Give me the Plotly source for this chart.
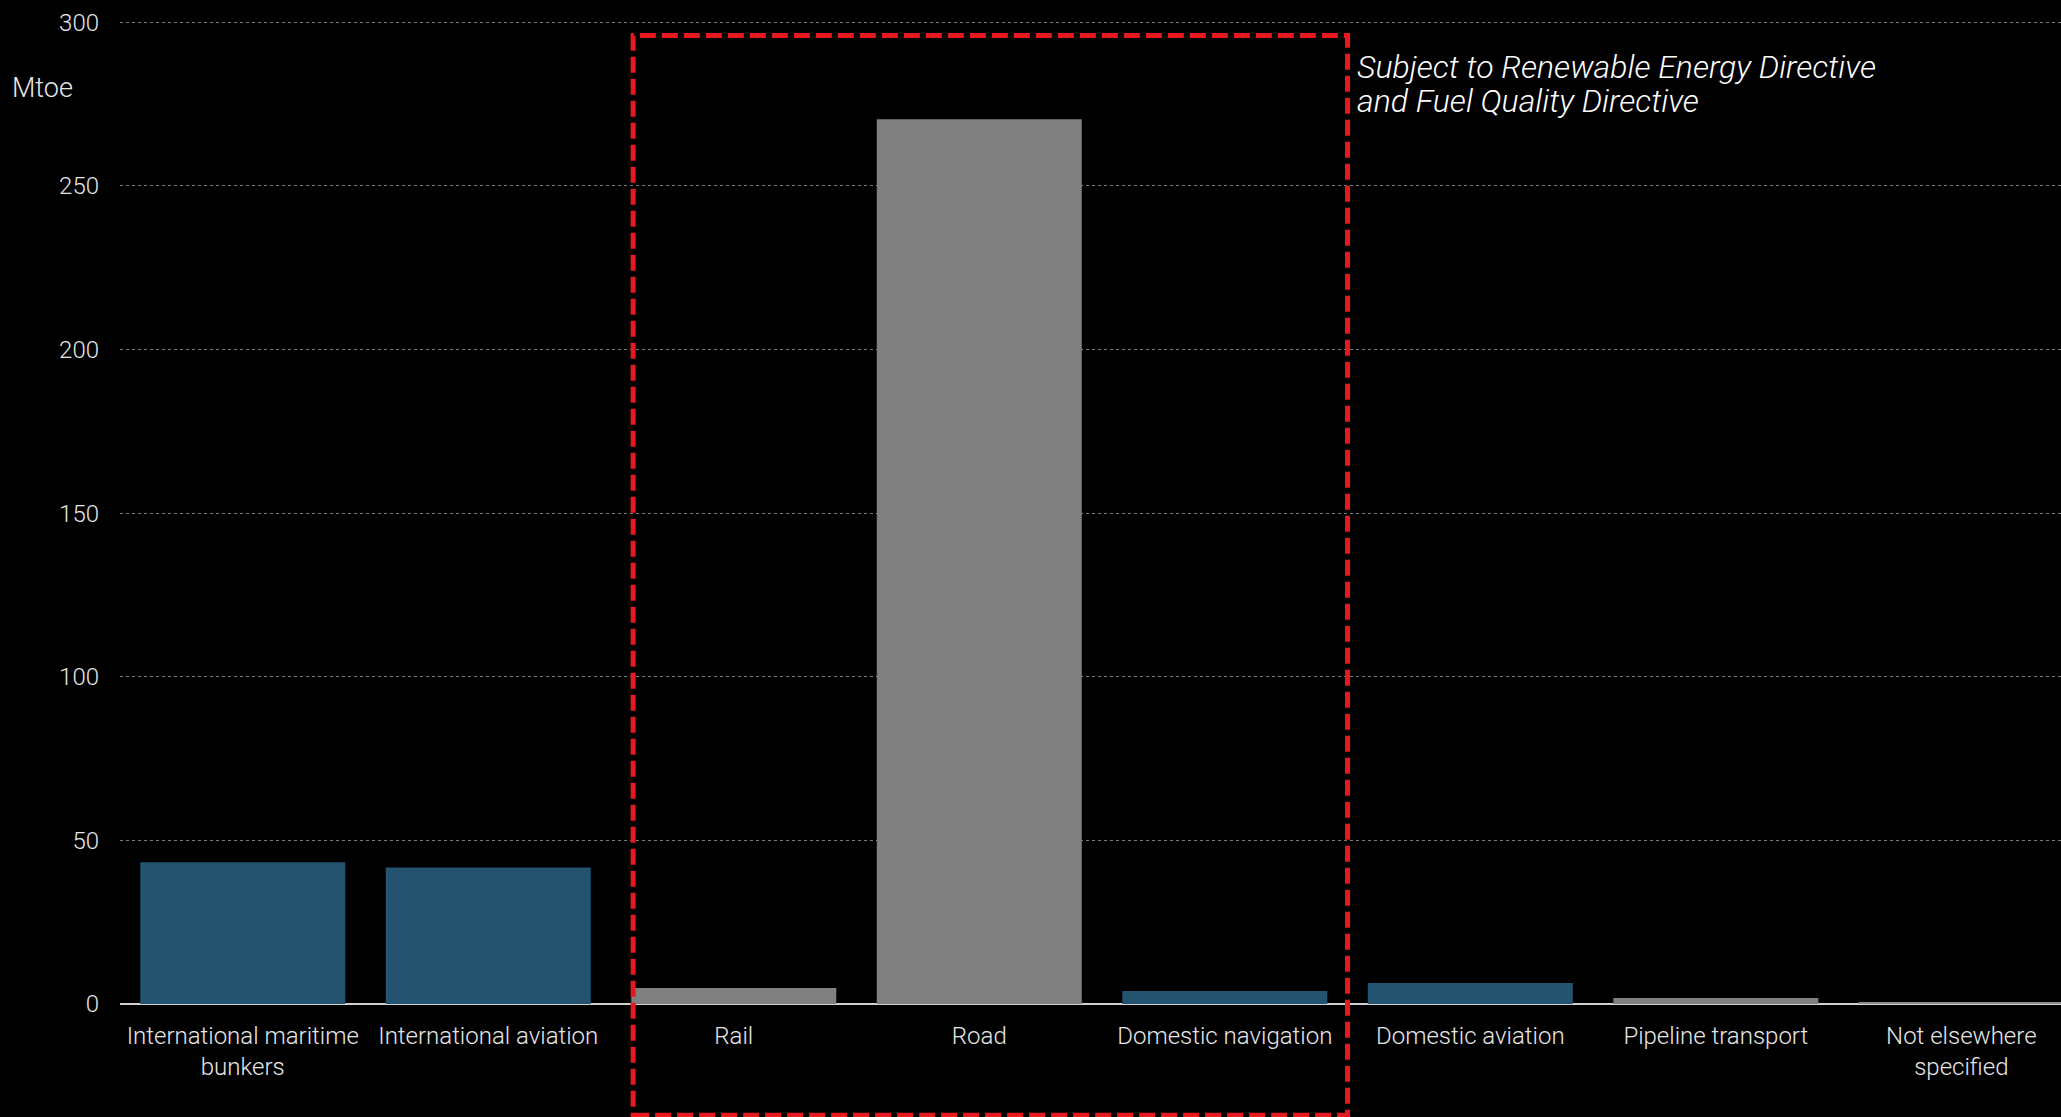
import plotly.graph_objects as go

# Final energy consumption in transport by mode
categories = [
    "International maritime<br>bunkers",
    "International aviation",
    "Rail",
    "Road",
    "Domestic navigation",
    "Domestic aviation",
    "Pipeline transport",
    "Not elsewhere<br>specified",
]
values_mtoe = [43.3, 41.7, 4.9, 270.4, 4.0, 6.4, 1.8, 0.6]
bar_colors = ["#23536f", "#23536f", "#808080", "#808080",
              "#23536f", "#23536f", "#808080", "#8c8c8c"]

y_ticks = [0, 50, 100, 150, 200, 250, 300]
y_range = [0, 300.4]
x_range = [-0.5, 7.406]

# Modes covered by the directives (Rail .. Domestic navigation)
box_x = [1.59, 4.5]
box_y = [296, -34]

note_lines = ["Subject to Renewable Energy Directive", "and Fuel Quality Directive"]
note_y = [286.4, 276.0]

FONT = "Roboto Light, Roboto"
TEXT_COLOR = "#e6e6e6"

fig = go.Figure(
    go.Bar(
        x=list(range(len(categories))),
        y=values_mtoe,
        marker=dict(color=bar_colors, line=dict(width=0)),
        hoverinfo="skip",
    )
)


def xp(v):
    return (v - x_range[0]) / (x_range[1] - x_range[0])


def yp(v):
    return (v - y_range[0]) / (y_range[1] - y_range[0])


fig.add_shape(
    type="rect",
    xref="paper", yref="paper",
    x0=xp(box_x[0]), x1=xp(box_x[1]),
    y0=yp(box_y[1]), y1=yp(box_y[0]),
    line=dict(color="#e8191e", width=5, dash="16px,6px"),
    fillcolor="rgba(0,0,0,0)",
    layer="above",
)

# Two-line italic note, placed line by line for tighter spacing
for line, yv in zip(note_lines, note_y):
    fig.add_annotation(
        xref="paper", yref="paper",
        x=xp(4.53), y=yp(yv),
        xanchor="left", yanchor="middle",
        align="left",
        showarrow=False,
        text=f"<i>{line}</i>",
        font=dict(family=FONT, size=32, color="#ffffff", weight=300),
    )

fig.add_annotation(
    xref="paper", yref="paper",
    x=-110 / 1941, y=yp(280),
    xanchor="left", yanchor="middle",
    showarrow=False,
    text="Mtoe",
    font=dict(family=FONT, size=27, color=TEXT_COLOR, weight=300),
)

fig.update_layout(
    width=2061,
    height=1117,
    paper_bgcolor="#000000",
    plot_bgcolor="#000000",
    margin=dict(l=120, r=0, t=21, b=113),
    bargap=0.165,
    showlegend=False,
    font=dict(family=FONT, size=24, color=TEXT_COLOR, weight=300),
    xaxis=dict(
        range=x_range,
        tickmode="array",
        tickvals=list(range(len(categories))),
        ticktext=categories,
        showgrid=False,
        showline=False,
        zeroline=False,
        ticks="",
        ticklabelstandoff=15,
        tickfont=dict(family=FONT, size=24, color=TEXT_COLOR, weight=300),
    ),
    yaxis=dict(
        range=y_range,
        tickvals=y_ticks,
        showgrid=True,
        gridcolor="#7a7a7a",
        griddash="dot",
        gridwidth=1,
        zeroline=True,
        zerolinecolor="#d0d0d0",
        zerolinewidth=2,
        showline=False,
        ticks="",
        ticklabelstandoff=20,
        tickfont=dict(family=FONT, size=24, color=TEXT_COLOR, weight=300),
    ),
)

fig.write_html("out.html")
